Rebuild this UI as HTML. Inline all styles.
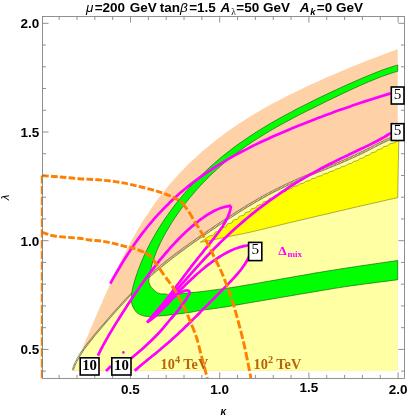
<!DOCTYPE html>
<html><head><meta charset="utf-8"><title>plot</title>
<style>html,body{margin:0;padding:0;background:#fff;}body{width:407px;height:418px;position:relative;overflow:hidden;font-family:"Liberation Sans",sans-serif;}</style>
</head><body>
<div style="position:absolute;left:0;top:0;width:407px;height:418px;will-change:transform">
<svg width="407" height="418" viewBox="0 0 407 418" style="position:absolute;left:0;top:0">
<rect width="407" height="418" fill="#fff"/>
<path d="M79.7 355.6 C80.3 354.1 82.0 349.7 83.2 346.8 C84.4 343.9 85.6 341.0 86.8 338.1 C88.0 335.2 89.2 332.3 90.5 329.4 C91.7 326.5 92.9 323.6 94.1 320.8 C95.4 317.9 96.6 315.0 97.8 312.1 C99.1 309.2 100.3 306.3 101.6 303.4 C102.8 300.6 104.1 297.7 105.3 294.8 C106.6 291.9 107.9 289.1 109.2 286.2 C110.5 283.3 111.8 280.5 113.1 277.6 C114.4 274.7 115.7 271.9 117.1 269.0 C118.4 266.2 119.8 263.4 121.2 260.5 C122.6 257.7 124.0 254.9 125.4 252.1 C126.8 249.3 128.3 246.5 129.8 243.8 C131.3 241.0 132.8 238.2 134.4 235.5 C135.9 232.8 137.5 230.0 139.1 227.3 C140.7 224.6 142.4 222.0 144.1 219.3 C145.8 216.7 147.5 214.0 149.2 211.4 C151.0 208.8 152.8 206.2 154.6 203.7 C156.5 201.1 158.3 198.6 160.2 196.1 C162.2 193.6 164.1 191.2 166.1 188.7 C168.1 186.3 170.1 183.9 172.2 181.5 C174.2 179.1 176.3 176.8 178.5 174.5 C180.6 172.2 182.8 169.9 185.0 167.7 C187.2 165.4 189.5 163.2 191.7 161.1 C194.0 158.9 196.3 156.8 198.7 154.7 C201.0 152.6 203.4 150.5 205.8 148.5 C208.2 146.4 210.6 144.5 213.1 142.5 C215.6 140.5 218.1 138.6 220.6 136.7 C223.1 134.8 225.7 133.0 228.2 131.1 C230.8 129.3 233.4 127.5 236.0 125.8 C238.6 124.0 241.2 122.3 243.9 120.6 C246.5 118.9 249.2 117.2 251.9 115.6 C254.6 113.9 257.3 112.3 260.0 110.8 C262.7 109.2 265.5 107.6 268.2 106.1 C270.9 104.6 273.7 103.1 276.5 101.6 C279.2 100.1 282.0 98.6 284.8 97.2 C287.6 95.8 290.4 94.4 293.2 93.0 C296.1 91.6 298.9 90.2 301.7 88.9 C304.5 87.5 307.4 86.2 310.2 84.8 C313.1 83.5 316.0 82.2 318.8 80.9 C321.7 79.6 324.6 78.4 327.4 77.1 C330.3 75.8 333.2 74.6 336.1 73.4 C339.0 72.1 341.9 70.9 344.8 69.7 C347.8 68.5 350.7 67.3 353.6 66.1 C356.5 64.9 359.5 63.7 362.4 62.6 C365.3 61.4 368.3 60.3 371.2 59.1 C374.2 58.0 377.1 56.9 380.1 55.8 C383.0 54.6 385.9 53.6 388.9 52.5 C391.8 51.4 396.2 49.8 397.7 49.3 L397.7 371.1 L73.4 371.1 Z" fill="#fed1a7"/>
<path d="M73.4 370.4 C73.7 369.5 74.6 366.6 75.4 364.7 C76.2 362.9 77.0 361.2 78.0 359.4 C78.9 357.7 79.9 356.1 80.9 354.4 C82.0 352.8 83.1 351.2 84.2 349.6 C85.3 348.0 86.5 346.5 87.7 344.9 C88.9 343.3 90.1 341.8 91.3 340.3 C92.5 338.7 93.8 337.2 95.0 335.7 C96.3 334.2 97.6 332.7 98.8 331.2 C100.1 329.6 101.4 328.1 102.7 326.6 C104.0 325.1 105.3 323.6 106.6 322.1 C107.8 320.6 109.1 319.1 110.5 317.6 C111.8 316.2 113.1 314.7 114.4 313.2 C115.7 311.7 117.0 310.2 118.3 308.8 C119.7 307.3 121.0 305.8 122.3 304.4 C123.7 302.9 125.0 301.5 126.4 300.1 C127.7 298.6 129.1 297.2 130.4 295.8 C131.8 294.4 133.2 293.0 134.6 291.6 C135.9 290.2 137.3 288.8 138.8 287.4 C140.2 286.1 141.6 284.7 143.0 283.4 C144.4 282.0 145.9 280.7 147.3 279.4 C148.8 278.0 150.2 276.7 151.7 275.4 C153.2 274.1 154.7 272.9 156.1 271.6 C157.6 270.3 159.1 269.1 160.7 267.8 C162.2 266.5 163.7 265.3 165.2 264.1 C166.8 262.8 168.3 261.6 169.9 260.4 C171.4 259.2 173.0 258.0 174.5 256.8 C176.1 255.6 177.7 254.4 179.3 253.3 C180.8 252.1 182.4 250.9 184.0 249.7 C185.6 248.6 187.2 247.4 188.8 246.3 C190.4 245.1 192.0 244.0 193.7 242.8 C195.3 241.7 196.9 240.6 198.5 239.4 C200.1 238.3 201.8 237.2 203.4 236.0 C205.0 234.9 206.7 233.8 208.3 232.7 C209.9 231.6 211.6 230.5 213.2 229.4 C214.8 228.2 216.5 227.1 218.1 226.0 C219.8 225.0 221.4 223.9 223.1 222.8 C224.7 221.7 226.3 220.6 228.0 219.5 C229.6 218.4 231.3 217.4 233.0 216.3 C234.6 215.2 236.3 214.2 237.9 213.1 C239.6 212.1 241.3 211.0 242.9 210.0 C244.6 209.0 246.3 207.9 247.9 206.9 C249.6 205.9 251.3 204.9 253.0 203.9 C254.7 202.9 256.4 201.9 258.1 200.9 C259.8 199.9 261.5 199.0 263.2 198.0 C264.9 197.1 266.6 196.1 268.3 195.2 C270.1 194.3 271.8 193.3 273.5 192.4 C275.3 191.5 277.0 190.6 278.8 189.8 C280.5 188.9 282.3 188.0 284.1 187.2 C285.8 186.3 287.6 185.5 289.4 184.7 C291.2 183.8 293.0 183.0 294.8 182.2 C296.6 181.4 298.4 180.6 300.2 179.8 C302.0 179.1 303.8 178.3 305.7 177.5 C307.5 176.8 309.3 176.0 311.2 175.3 C313.0 174.5 314.8 173.8 316.7 173.0 C318.5 172.3 320.4 171.5 322.2 170.8 C324.1 170.1 325.9 169.3 327.7 168.6 C329.6 167.9 331.4 167.1 333.3 166.4 C335.1 165.6 336.9 164.9 338.8 164.1 C340.6 163.3 342.4 162.6 344.2 161.8 C346.0 161.0 347.8 160.2 349.6 159.4 C351.4 158.6 353.2 157.8 355.0 157.0 C356.8 156.2 358.5 155.3 360.3 154.5 C362.1 153.6 363.8 152.8 365.6 151.9 C367.3 151.0 369.0 150.1 370.8 149.3 C372.5 148.4 374.2 147.5 376.0 146.6 C377.7 145.7 379.4 144.8 381.2 143.9 C383.0 143.1 384.7 142.2 386.5 141.4 C388.3 140.5 390.1 139.7 392.0 139.0 C393.8 138.2 396.7 137.2 397.7 136.9 L397.7 371.1 Z" fill="#ffffa3"/>
<path d="M200.4 242.3  L209.4 236.0 L213.8 235.1 L215.4 231.9 L219.8 231.0 L221.4 227.9 L225.8 227.0 L227.4 223.9 L231.8 223.0 L233.4 220.0 L237.8 219.1 L239.4 216.2 L243.8 215.3 L245.4 212.5 L249.8 211.6 L251.4 208.8 L255.8 207.9 L257.4 205.3 L261.8 204.4 L263.4 201.8 L267.8 200.9 L269.4 198.5 L273.8 197.6 L275.4 195.4 L279.8 194.5 L281.4 192.3 L285.8 191.4 L287.4 189.4 L291.8 188.5 L293.4 186.6 L297.8 185.7 L299.4 184.0 L303.8 183.1 L305.4 181.4 L309.8 180.5 L311.4 178.9 L315.8 178.0 L317.4 176.5 L321.8 175.6 L323.4 174.1 L327.8 173.2 L329.4 171.7 L333.8 170.8 L335.4 169.2 L339.8 168.3 L341.4 166.8 L345.8 165.9 L347.4 164.2 L351.8 163.3 L353.4 161.5 L357.8 160.6 L359.4 158.7 L363.8 157.8 L365.4 155.8 L369.8 154.9 L371.4 152.8 L375.8 151.9 L377.4 149.7 L381.8 148.8 L383.4 146.7 L387.8 145.8 L389.4 143.9 L393.8 143.0 L398.8 140.2 L397.7 197.6 L397.7 197.6 C389.8 199.4 366.3 204.7 350.0 208.5 C333.7 212.3 311.7 217.4 300.0 220.2 C288.3 222.9 288.4 223.0 280.0 225.0 C271.6 227.0 257.0 230.6 249.5 232.3 C242.0 234.0 240.8 234.1 235.0 235.3 C229.2 236.5 220.5 238.3 214.7 239.5 C208.9 240.7 202.8 241.8 200.4 242.3 Z" fill="#ffff00" stroke="#4a4a00" stroke-width="0.45"/>
<path d="M72.8 370.2 C73.1 369.2 74.0 366.3 74.8 364.5 C75.6 362.6 76.5 360.9 77.4 359.1 C78.3 357.4 79.3 355.7 80.4 354.1 C81.4 352.4 82.6 350.8 83.7 349.2 C84.8 347.6 86.0 346.1 87.2 344.5 C88.4 342.9 89.6 341.4 90.8 339.9 C92.0 338.3 93.3 336.8 94.5 335.3 C95.8 333.8 97.1 332.2 98.3 330.7 C99.6 329.2 100.9 327.7 102.2 326.2 C103.5 324.7 104.8 323.2 106.1 321.7 C107.4 320.2 108.7 318.7 110.0 317.2 C111.3 315.7 112.6 314.2 113.9 312.8 C115.2 311.3 116.5 309.8 117.9 308.3 C119.2 306.9 120.5 305.4 121.8 304.0 C123.2 302.5 124.5 301.1 125.9 299.6 C127.2 298.2 128.6 296.8 130.0 295.3 C131.3 293.9 132.7 292.5 134.1 291.1 C135.5 289.7 136.9 288.3 138.3 287.0 C139.7 285.6 141.1 284.2 142.6 282.9 C144.0 281.5 146.2 279.6 146.9 278.9" fill="none" stroke="#66663c" stroke-width="1.3" stroke-dasharray="0.45 1.0"/>
<path d="M73.4 370.4 C73.7 369.5 74.6 366.6 75.4 364.7 C76.2 362.9 77.0 361.2 78.0 359.4 C78.9 357.7 79.9 356.1 80.9 354.4 C82.0 352.8 83.1 351.2 84.2 349.6 C85.3 348.0 86.5 346.5 87.7 344.9 C88.9 343.3 90.1 341.8 91.3 340.3 C92.5 338.7 93.8 337.2 95.0 335.7 C96.3 334.2 97.6 332.7 98.8 331.2 C100.1 329.6 101.4 328.1 102.7 326.6 C104.0 325.1 105.3 323.6 106.6 322.1 C107.8 320.6 109.1 319.1 110.5 317.6 C111.8 316.2 113.1 314.7 114.4 313.2 C115.7 311.7 117.0 310.2 118.3 308.8 C119.7 307.3 121.0 305.8 122.3 304.4 C123.7 302.9 125.0 301.5 126.4 300.1 C127.7 298.6 129.1 297.2 130.4 295.8 C131.8 294.4 133.2 293.0 134.6 291.6 C135.9 290.2 137.3 288.8 138.8 287.4 C140.2 286.1 141.6 284.7 143.0 283.4 C144.4 282.0 146.6 280.0 147.3 279.4" fill="none" stroke="#3d3d1e" stroke-width="0.5"/>
<path d="M72.2 370.0 C72.5 369.0 73.4 366.1 74.2 364.2 C75.0 362.4 75.9 360.6 76.8 358.8 C77.8 357.1 78.8 355.4 79.8 353.7 C80.9 352.1 82.0 350.5 83.2 348.9 C84.3 347.2 85.5 345.7 86.7 344.1 C87.9 342.5 89.1 341.0 90.3 339.5 C91.5 337.9 92.8 336.4 94.0 334.9 C95.3 333.3 96.6 331.8 97.8 330.3 C99.1 328.8 100.4 327.3 101.7 325.8 C103.0 324.3 104.3 322.8 105.6 321.3 C106.9 319.8 108.2 318.3 109.5 316.8 C110.8 315.3 112.1 313.8 113.4 312.3 C114.7 310.8 116.0 309.4 117.4 307.9 C118.7 306.4 120.0 305.0 121.4 303.5 C122.7 302.1 124.1 300.6 125.4 299.2 C126.8 297.7 128.1 296.3 129.5 294.9 C130.9 293.5 132.3 292.1 133.6 290.7 C135.0 289.3 136.4 287.9 137.8 286.5 C139.3 285.1 140.7 283.8 142.1 282.4 C143.5 281.1 145.7 279.1 146.4 278.4" fill="none" stroke="#3d3d1e" stroke-width="0.45"/>
<path d="M146.6 278.6 C147.4 278.0 149.6 276.0 151.0 274.7 C152.5 273.4 154.0 272.1 155.5 270.8 C157.0 269.5 158.5 268.3 160.0 267.0 C161.5 265.8 163.1 264.5 164.6 263.3 C166.1 262.1 167.7 260.8 169.2 259.6 C170.8 258.4 172.4 257.2 173.9 256.0 C175.5 254.8 177.1 253.6 178.7 252.5 C180.2 251.3 181.8 250.1 183.4 248.9 C185.0 247.8 186.6 246.6 188.2 245.5 C189.8 244.3 191.5 243.2 193.1 242.0 C194.7 240.9 196.3 239.7 197.9 238.6 C199.6 237.5 201.2 236.3 202.8 235.2 C204.5 234.1 206.1 233.0 207.7 231.9 C209.4 230.7 211.0 229.6 212.6 228.5 C214.3 227.4 215.9 226.3 217.6 225.2 C219.2 224.1 220.9 223.0 222.5 221.9 C224.1 220.8 225.8 219.8 227.5 218.7 C229.1 217.6 230.8 216.5 232.4 215.5 C234.1 214.4 235.7 213.3 237.4 212.3 C239.1 211.2 240.7 210.2 242.4 209.1 C244.1 208.1 245.7 207.1 247.4 206.1 C249.1 205.0 250.8 204.0 252.5 203.0 C254.2 202.0 255.9 201.0 257.6 200.1 C259.3 199.1 261.0 198.1 262.7 197.1 C264.4 196.2 266.1 195.2 267.9 194.3 C269.6 193.4 271.3 192.5 273.1 191.6 C274.8 190.7 276.6 189.8 278.3 188.9 C280.1 188.0 281.8 187.1 283.6 186.3 C285.4 185.4 287.2 184.6 289.0 183.8 C290.8 182.9 292.6 182.1 294.4 181.3 C296.2 180.5 298.0 179.7 299.8 178.9 C301.6 178.1 303.5 177.4 305.3 176.6 C307.1 175.8 308.9 175.1 310.8 174.3 C312.6 173.6 314.5 172.8 316.3 172.1 C318.2 171.3 320.0 170.6 321.8 169.9 C323.7 169.1 325.5 168.4 327.4 167.7 C329.2 166.9 331.1 166.2 332.9 165.4 C334.7 164.7 336.6 163.9 338.4 163.2 C340.2 162.4 342.0 161.7 343.8 160.9 C345.6 160.1 347.4 159.3 349.2 158.5 C351.0 157.7 352.8 156.9 354.6 156.1 C356.3 155.3 358.1 154.4 359.9 153.6 C361.6 152.7 363.4 151.9 365.1 151.0 C366.9 150.1 368.6 149.2 370.3 148.4 C372.1 147.5 373.8 146.6 375.5 145.7 C377.3 144.8 379.0 143.9 380.8 143.0 C382.5 142.2 384.3 141.3 386.1 140.5 C387.9 139.6 389.7 138.8 391.6 138.1 C393.5 137.3 396.4 136.3 397.4 136.0" fill="none" stroke="#66663c" stroke-width="2.0" stroke-dasharray="0.45 1.0"/>
<path d="M147.3 279.4 C148.0 278.7 150.2 276.7 151.7 275.4 C153.2 274.1 154.7 272.9 156.1 271.6 C157.6 270.3 159.1 269.1 160.7 267.8 C162.2 266.5 163.7 265.3 165.2 264.1 C166.8 262.8 168.3 261.6 169.9 260.4 C171.4 259.2 173.0 258.0 174.5 256.8 C176.1 255.6 177.7 254.4 179.3 253.3 C180.8 252.1 182.4 250.9 184.0 249.7 C185.6 248.6 187.2 247.4 188.8 246.3 C190.4 245.1 192.0 244.0 193.7 242.8 C195.3 241.7 196.9 240.6 198.5 239.4 C200.1 238.3 201.8 237.2 203.4 236.0 C205.0 234.9 206.7 233.8 208.3 232.7 C209.9 231.6 211.6 230.5 213.2 229.4 C214.8 228.2 216.5 227.1 218.1 226.0 C219.8 225.0 221.4 223.9 223.1 222.8 C224.7 221.7 226.3 220.6 228.0 219.5 C229.6 218.4 231.3 217.4 233.0 216.3 C234.6 215.2 236.3 214.2 237.9 213.1 C239.6 212.1 241.3 211.0 242.9 210.0 C244.6 209.0 246.3 207.9 247.9 206.9 C249.6 205.9 251.3 204.9 253.0 203.9 C254.7 202.9 256.4 201.9 258.1 200.9 C259.8 199.9 261.5 199.0 263.2 198.0 C264.9 197.1 266.6 196.1 268.3 195.2 C270.1 194.3 271.8 193.3 273.5 192.4 C275.3 191.5 277.0 190.6 278.8 189.8 C280.5 188.9 282.3 188.0 284.1 187.2 C285.8 186.3 287.6 185.5 289.4 184.7 C291.2 183.8 293.0 183.0 294.8 182.2 C296.6 181.4 298.4 180.6 300.2 179.8 C302.0 179.1 303.8 178.3 305.7 177.5 C307.5 176.8 309.3 176.0 311.2 175.3 C313.0 174.5 314.8 173.8 316.7 173.0 C318.5 172.3 320.4 171.5 322.2 170.8 C324.1 170.1 325.9 169.3 327.7 168.6 C329.6 167.9 331.4 167.1 333.3 166.4 C335.1 165.6 336.9 164.9 338.8 164.1 C340.6 163.3 342.4 162.6 344.2 161.8 C346.0 161.0 347.8 160.2 349.6 159.4 C351.4 158.6 353.2 157.8 355.0 157.0 C356.8 156.2 358.5 155.3 360.3 154.5 C362.1 153.6 363.8 152.8 365.6 151.9 C367.3 151.0 369.0 150.1 370.8 149.3 C372.5 148.4 374.2 147.5 376.0 146.6 C377.7 145.7 379.4 144.8 381.2 143.9 C383.0 143.1 384.7 142.2 386.5 141.4 C388.3 140.5 390.1 139.7 392.0 139.0 C393.8 138.2 396.7 137.2 397.7 136.9" fill="none" stroke="#3d3d1e" stroke-width="0.5"/>
<path d="M146.0 277.9 C146.7 277.2 148.9 275.2 150.4 273.9 C151.9 272.6 153.3 271.3 154.8 270.1 C156.3 268.8 157.9 267.5 159.4 266.3 C160.9 265.0 162.4 263.8 164.0 262.5 C165.5 261.3 167.1 260.1 168.6 258.8 C170.2 257.6 171.7 256.4 173.3 255.2 C174.9 254.0 176.5 252.8 178.1 251.7 C179.6 250.5 181.2 249.3 182.8 248.1 C184.4 247.0 186.0 245.8 187.7 244.6 C189.3 243.5 190.9 242.3 192.5 241.2 C194.1 240.1 195.7 238.9 197.4 237.8 C199.0 236.6 200.6 235.5 202.3 234.4 C203.9 233.3 205.5 232.1 207.2 231.0 C208.8 229.9 210.4 228.8 212.1 227.7 C213.7 226.6 215.4 225.5 217.0 224.4 C218.7 223.3 220.3 222.2 222.0 221.1 C223.6 220.0 225.3 218.9 226.9 217.8 C228.6 216.8 230.2 215.7 231.9 214.6 C233.5 213.6 235.2 212.5 236.9 211.4 C238.5 210.4 240.2 209.3 241.9 208.3 C243.5 207.3 245.2 206.2 246.9 205.2 C248.6 204.2 250.3 203.2 252.0 202.2 C253.7 201.2 255.4 200.2 257.1 199.2 C258.8 198.2 260.5 197.2 262.2 196.3 C263.9 195.3 265.6 194.4 267.4 193.4 C269.1 192.5 270.9 191.6 272.6 190.7 C274.4 189.8 276.1 188.9 277.9 188.0 C279.6 187.1 281.4 186.2 283.2 185.4 C285.0 184.5 286.8 183.7 288.6 182.8 C290.3 182.0 292.2 181.2 294.0 180.4 C295.8 179.6 297.6 178.8 299.4 178.0 C301.2 177.2 303.1 176.4 304.9 175.7 C306.7 174.9 308.6 174.2 310.4 173.4 C312.2 172.6 314.1 171.9 315.9 171.2 C317.8 170.4 319.6 169.7 321.5 168.9 C323.3 168.2 325.2 167.5 327.0 166.7 C328.8 166.0 330.7 165.3 332.5 164.5 C334.3 163.8 336.2 163.0 338.0 162.3 C339.8 161.5 341.6 160.7 343.4 160.0 C345.2 159.2 347.0 158.4 348.8 157.6 C350.6 156.8 352.4 156.0 354.2 155.2 C355.9 154.4 357.7 153.5 359.4 152.7 C361.2 151.8 362.9 151.0 364.7 150.1 C366.4 149.2 368.1 148.4 369.9 147.5 C371.6 146.6 373.3 145.7 375.1 144.8 C376.8 143.9 378.5 143.0 380.3 142.1 C382.1 141.3 383.9 140.4 385.7 139.5 C387.5 138.7 389.3 137.9 391.2 137.1 C393.1 136.4 396.1 135.4 397.0 135.0" fill="none" stroke="#3d3d1e" stroke-width="0.45"/>
<path d="M397.7 65.0 C396.4 65.4 392.3 66.6 389.7 67.5 C387.1 68.4 384.5 69.3 381.9 70.2 C379.4 71.2 376.8 72.2 374.2 73.2 C371.7 74.2 369.2 75.2 366.6 76.3 C364.1 77.3 361.6 78.4 359.1 79.5 C356.5 80.6 354.0 81.7 351.5 82.8 C349.0 83.9 346.5 85.0 344.0 86.2 C341.5 87.3 339.0 88.5 336.6 89.6 C334.1 90.8 331.6 91.9 329.1 93.1 C326.6 94.3 324.2 95.4 321.7 96.6 C319.2 97.8 316.7 99.0 314.3 100.2 C311.8 101.4 309.4 102.7 306.9 103.9 C304.5 105.1 302.0 106.3 299.6 107.6 C297.1 108.8 294.7 110.1 292.3 111.4 C289.9 112.7 287.4 114.0 285.0 115.3 C282.6 116.6 280.2 117.9 277.9 119.2 C275.5 120.6 273.1 121.9 270.7 123.3 C268.4 124.7 266.0 126.1 263.7 127.5 C261.3 128.9 259.0 130.4 256.7 131.8 C254.4 133.3 252.1 134.8 249.8 136.3 C247.5 137.8 245.3 139.3 243.0 140.9 C240.8 142.4 238.6 144.0 236.3 145.6 C234.1 147.3 231.9 148.9 229.8 150.6 C227.6 152.2 225.5 153.9 223.3 155.6 C221.2 157.4 219.1 159.1 217.0 160.9 C214.9 162.7 212.9 164.5 210.8 166.3 C208.8 168.2 206.8 170.0 204.8 171.9 C202.8 173.8 200.8 175.7 198.9 177.7 C197.0 179.6 195.1 181.6 193.2 183.6 C191.3 185.6 189.4 187.6 187.6 189.7 C185.8 191.7 184.0 193.8 182.2 195.9 C180.5 198.1 178.7 200.2 177.0 202.3 C175.3 204.5 173.6 206.7 172.0 208.9 C170.4 211.1 168.7 213.3 167.2 215.6 C165.6 217.8 164.1 220.1 162.5 222.4 C161.0 224.7 159.6 227.0 158.1 229.3 C156.7 231.7 155.3 234.0 154.0 236.4 C152.6 238.8 151.3 241.2 150.0 243.6 C148.7 246.0 147.5 248.4 146.3 250.9 C145.1 253.3 144.0 255.8 142.9 258.3 C141.8 260.8 140.8 263.3 139.8 265.9 C138.8 268.4 137.8 271.0 137.0 273.6 C136.1 276.1 135.2 278.8 134.5 281.4 C133.7 284.0 132.9 286.8 132.4 289.4 C131.9 292.0 131.6 294.9 131.5 297.0 C131.4 299.1 131.4 300.4 131.6 302.0 C131.8 303.6 132.0 304.9 132.9 306.7 C133.8 308.5 135.2 311.1 136.8 312.6 C138.4 314.1 140.6 314.9 142.7 315.6 C144.8 316.3 147.0 316.5 149.6 316.6 C152.2 316.7 155.0 316.3 158.4 316.0 C161.8 315.7 164.6 315.5 169.8 314.9 C175.0 314.3 184.5 313.1 189.5 312.4 C194.5 311.7 195.0 311.3 200.0 310.5 C205.0 309.7 213.0 308.8 219.7 307.8 C226.4 306.8 225.4 306.9 240.0 304.4 C254.6 301.9 288.7 296.1 307.0 293.0 C325.3 289.9 334.9 288.2 350.0 286.0 C365.1 283.8 389.8 280.8 397.7 279.7 L397.7 260.5 L397.7 260.5 C389.8 261.7 362.9 265.5 350.0 267.5 C337.1 269.5 327.2 271.1 320.0 272.3 C312.8 273.5 320.3 272.2 307.0 274.5 C293.7 276.8 254.6 283.8 240.0 286.2 C225.4 288.6 226.4 288.3 219.7 289.2 C213.0 290.1 205.0 291.2 200.0 291.8 C195.0 292.4 193.2 292.4 189.5 292.8 C185.8 293.2 181.3 293.7 178.0 294.0 C174.7 294.3 172.0 294.7 169.8 294.7 C167.6 294.7 166.6 294.0 165.0 293.9 C163.4 293.8 161.6 294.2 160.0 293.8 C158.4 293.4 156.8 292.4 155.4 291.4 C154.0 290.3 152.5 289.0 151.4 287.5 C150.3 286.0 149.4 284.1 149.0 282.6 C148.6 281.1 148.7 280.7 148.9 278.8 C149.1 276.9 149.7 273.7 150.2 271.3 C150.8 268.8 151.4 266.4 152.1 263.9 C152.8 261.5 153.6 259.1 154.5 256.7 C155.3 254.4 156.3 252.0 157.3 249.7 C158.3 247.3 159.3 245.0 160.5 242.7 C161.6 240.4 162.7 238.1 164.0 235.9 C165.2 233.6 166.4 231.4 167.8 229.2 C169.1 227.0 170.4 224.8 171.8 222.6 C173.2 220.4 174.6 218.3 176.1 216.1 C177.5 214.0 179.0 211.9 180.5 209.8 C182.0 207.7 183.6 205.7 185.2 203.6 C186.7 201.6 188.3 199.6 190.0 197.6 C191.6 195.6 193.3 193.7 195.0 191.7 C196.7 189.8 198.4 187.9 200.1 186.0 C201.8 184.1 203.6 182.3 205.4 180.4 C207.2 178.6 209.0 176.8 210.8 175.0 C212.7 173.3 214.5 171.5 216.4 169.8 C218.3 168.1 220.2 166.4 222.1 164.7 C224.0 163.1 226.0 161.4 228.0 159.8 C229.9 158.2 231.9 156.6 233.9 155.1 C236.0 153.5 238.0 152.0 240.0 150.5 C242.1 149.0 244.2 147.5 246.3 146.0 C248.4 144.6 250.5 143.1 252.6 141.7 C254.7 140.3 256.9 138.9 259.1 137.6 C261.2 136.2 263.4 134.9 265.6 133.5 C267.8 132.2 270.0 130.9 272.2 129.6 C274.4 128.3 276.7 127.0 278.9 125.8 C281.2 124.5 283.4 123.3 285.7 122.1 C288.0 120.8 290.2 119.6 292.5 118.4 C294.8 117.2 297.1 116.0 299.4 114.8 C301.7 113.7 304.0 112.5 306.3 111.3 C308.6 110.2 310.9 109.0 313.2 107.9 C315.5 106.7 317.8 105.6 320.1 104.5 C322.4 103.3 324.7 102.2 327.0 101.1 C329.3 100.0 331.7 98.8 334.0 97.7 C336.3 96.6 338.6 95.5 340.9 94.4 C343.2 93.3 345.5 92.3 347.8 91.2 C350.1 90.1 352.4 89.0 354.7 88.0 C357.0 86.9 359.4 85.9 361.7 84.8 C364.0 83.8 366.3 82.8 368.7 81.8 C371.0 80.8 373.4 79.8 375.7 78.9 C378.1 77.9 380.5 77.0 382.9 76.1 C385.3 75.2 387.8 74.3 390.3 73.5 C392.7 72.7 396.5 71.6 397.7 71.2 Z" fill="#00ff00" stroke="#1a661a" stroke-width="0.7"/>
<path d="M110.3 283.6 C111.0 282.3 113.1 278.5 114.6 275.9 C116.1 273.3 117.6 270.8 119.1 268.2 C120.6 265.6 122.1 263.1 123.7 260.5 C125.3 258.0 126.9 255.5 128.5 253.0 C130.2 250.4 131.8 247.9 133.5 245.5 C135.3 243.0 137.0 240.6 138.8 238.1 C140.5 235.7 142.4 233.3 144.2 231.0 C146.0 228.6 147.9 226.3 149.8 224.0 C151.8 221.7 153.7 219.4 155.7 217.2 C157.7 214.9 159.7 212.7 161.8 210.6 C163.8 208.4 165.9 206.3 168.1 204.2 C170.2 202.1 172.4 200.1 174.5 198.0 C176.7 196.0 179.0 194.1 181.2 192.1 C183.5 190.2 185.8 188.3 188.1 186.4 C190.4 184.5 192.8 182.7 195.2 180.9 C197.5 179.1 199.9 177.4 202.4 175.6 C204.8 173.9 207.3 172.2 209.8 170.6 C212.2 168.9 214.8 167.3 217.3 165.7 C219.8 164.1 222.4 162.6 224.9 161.1 C227.5 159.5 230.1 158.0 232.7 156.6 C235.3 155.1 238.0 153.7 240.6 152.3 C243.2 150.9 245.9 149.5 248.6 148.1 C251.2 146.8 253.9 145.4 256.6 144.1 C259.3 142.8 262.0 141.5 264.8 140.3 C267.5 139.0 270.2 137.8 272.9 136.5 C275.7 135.3 278.4 134.1 281.2 132.9 C283.9 131.7 286.7 130.6 289.4 129.4 C292.2 128.3 295.0 127.1 297.7 126.0 C300.5 124.9 303.3 123.8 306.1 122.7 C308.8 121.6 311.6 120.5 314.4 119.4 C317.2 118.4 320.0 117.3 322.8 116.3 C325.6 115.2 328.3 114.2 331.1 113.2 C333.9 112.1 336.7 111.1 339.5 110.1 C342.3 109.1 345.1 108.1 347.9 107.2 C350.8 106.2 353.6 105.2 356.4 104.3 C359.2 103.3 362.0 102.4 364.9 101.4 C367.7 100.5 370.5 99.6 373.4 98.7 C376.3 97.8 379.1 96.9 382.0 96.0 C384.9 95.1 389.3 93.8 390.7 93.4" fill="none" stroke="#ff00ff" stroke-width="2.7" stroke-linejoin="round"/>
<path d="M97.9 355.6 C98.3 354.8 99.5 352.4 100.3 350.8 C101.1 349.2 101.9 347.7 102.7 346.1 C103.6 344.5 104.4 343.0 105.3 341.5 C106.1 340.0 107.0 338.4 107.9 336.9 C108.7 335.4 109.6 333.9 110.5 332.4 C111.4 330.9 112.3 329.4 113.2 327.9 C114.1 326.4 115.0 324.9 115.9 323.4 C116.9 321.9 117.8 320.4 118.7 319.0 C119.6 317.5 120.6 316.0 121.5 314.5 C122.5 313.0 123.4 311.5 124.4 310.0 C125.3 308.6 126.3 307.1 127.2 305.6 C128.2 304.1 129.2 302.6 130.1 301.2 C131.1 299.7 132.1 298.2 133.1 296.8 C134.0 295.3 135.0 293.8 136.0 292.4 C137.0 290.9 138.0 289.5 139.0 288.0 C140.0 286.6 141.0 285.1 142.1 283.7 C143.1 282.3 144.1 280.8 145.1 279.4 C146.2 278.0 147.2 276.6 148.2 275.2 C149.3 273.8 150.3 272.4 151.4 271.0 C152.4 269.6 153.5 268.2 154.6 266.8 C155.6 265.4 156.7 264.1 157.8 262.7 C158.9 261.3 160.0 260.0 161.1 258.6 C162.2 257.3 163.4 255.9 164.5 254.6 C165.6 253.3 166.8 252.0 167.9 250.6 C169.1 249.3 170.2 248.0 171.4 246.7 C172.6 245.4 173.8 244.1 175.0 242.8 C176.2 241.6 177.4 240.3 178.6 239.0 C179.8 237.8 181.1 236.5 182.3 235.3 C183.6 234.1 184.9 232.8 186.2 231.6 C187.4 230.4 188.7 229.2 190.1 228.1 C191.4 226.9 192.7 225.7 194.1 224.6 C195.4 223.5 196.8 222.3 198.2 221.3 C199.6 220.2 201.0 219.1 202.5 218.1 C203.9 217.1 205.4 216.1 206.8 215.1 C208.3 214.2 209.8 213.3 211.3 212.5 C212.9 211.6 214.4 210.8 216.0 210.1 C217.6 209.3 219.2 208.7 220.8 208.1 C222.5 207.5 224.1 207.0 225.8 206.6 C227.5 206.1 230.1 205.8 231.0 205.6" fill="none" stroke="#ff00ff" stroke-width="2.7" stroke-linejoin="round"/>
<path d="M231.0 205.6 C230.9 206.2 230.6 208.1 230.4 209.3 C230.1 210.5 229.7 211.6 229.4 212.8 C229.0 214.0 228.5 215.1 228.1 216.2 C227.6 217.3 227.1 218.4 226.5 219.5 C226.0 220.6 225.4 221.7 224.8 222.7 C224.2 223.8 223.5 224.9 222.9 225.9 C222.2 226.9 221.5 228.0 220.8 229.0 C220.1 230.0 219.4 231.0 218.7 232.0 C217.9 233.0 217.2 234.0 216.4 235.0 C215.7 236.0 214.9 237.0 214.1 238.0 C213.4 239.0 212.6 239.9 211.8 240.9 C211.0 241.9 210.2 242.9 209.5 243.8 C208.7 244.8 207.9 245.8 207.1 246.8 C206.3 247.7 205.5 248.7 204.7 249.7 C203.9 250.6 203.2 251.6 202.4 252.6 C201.6 253.5 200.8 254.5 200.0 255.5 C199.3 256.4 198.5 257.4 197.7 258.4 C197.0 259.3 196.2 260.3 195.4 261.3 C194.7 262.2 193.9 263.2 193.1 264.2 C192.4 265.2 191.6 266.1 190.9 267.1 C190.1 268.1 189.4 269.1 188.6 270.1 C187.9 271.0 187.2 272.0 186.4 273.0 C185.7 274.0 184.9 275.0 184.2 275.9 C183.4 276.9 182.7 277.9 182.0 278.9 C181.2 279.9 180.5 280.9 179.8 281.8 C179.0 282.8 178.3 283.8 177.5 284.8 C176.8 285.8 176.0 286.8 175.3 287.8 C174.5 288.7 173.8 289.7 173.0 290.7 C172.3 291.7 171.5 292.7 170.8 293.7 C170.0 294.6 169.3 295.6 168.5 296.6 C167.7 297.6 167.0 298.6 166.2 299.5 C165.4 300.5 164.6 301.5 163.8 302.5 C163.1 303.4 162.3 304.4 161.5 305.4 C160.7 306.3 159.9 307.3 159.1 308.3 C158.3 309.2 157.5 310.2 156.7 311.1 C155.9 312.1 155.1 313.0 154.3 314.0 C153.5 314.9 152.7 315.9 151.9 316.8 C151.1 317.7 150.3 318.7 149.5 319.6 C148.7 320.5 147.5 321.9 147.1 322.4" fill="none" stroke="#ff00ff" stroke-width="2.7" stroke-linejoin="round"/>
<path d="M147.1 322.4 C148.0 321.4 150.9 318.6 152.7 316.7 C154.6 314.7 156.4 312.8 158.2 310.8 C160.0 308.9 161.8 306.9 163.6 305.0 C165.4 303.0 167.1 301.0 168.9 299.0 C170.7 297.0 172.4 295.0 174.2 293.0 C175.9 291.0 177.7 289.0 179.4 286.9 C181.2 284.9 183.0 282.9 184.7 280.9 C186.5 278.9 188.2 276.9 190.0 274.9 C191.8 272.9 193.5 270.9 195.3 268.9 C197.1 266.9 198.9 264.9 200.7 262.9 C202.5 261.0 204.3 259.0 206.1 257.0 C208.0 255.1 209.8 253.2 211.7 251.2 C213.5 249.3 215.4 247.4 217.3 245.5 C219.1 243.6 221.0 241.7 223.0 239.9 C224.9 238.0 226.8 236.2 228.7 234.4 C230.7 232.5 232.7 230.7 234.6 229.0 C236.6 227.2 238.6 225.4 240.6 223.7 C242.6 221.9 244.7 220.2 246.7 218.5 C248.8 216.8 250.8 215.1 252.9 213.4 C255.0 211.7 257.1 210.1 259.2 208.4 C261.3 206.8 263.4 205.2 265.6 203.6 C267.7 202.0 269.9 200.4 272.1 198.9 C274.2 197.3 276.4 195.8 278.6 194.3 C280.8 192.7 283.0 191.2 285.3 189.8 C287.5 188.3 289.7 186.8 292.0 185.4 C294.3 184.0 296.5 182.6 298.8 181.2 C301.1 179.8 303.4 178.4 305.7 177.1 C308.0 175.7 310.3 174.4 312.7 173.1 C315.0 171.8 317.3 170.5 319.7 169.2 C322.0 167.9 324.4 166.7 326.8 165.5 C329.1 164.2 331.5 163.0 333.9 161.9 C336.3 160.7 338.7 159.5 341.1 158.3 C343.5 157.2 345.9 156.0 348.3 154.9 C350.7 153.7 353.1 152.6 355.5 151.5 C357.9 150.4 360.3 149.2 362.7 148.1 C365.1 146.9 367.5 145.8 369.9 144.6 C372.3 143.4 374.7 142.2 377.0 141.0 C379.4 139.7 381.8 138.4 384.1 137.1 C386.4 135.7 389.8 133.5 391.0 132.8" fill="none" stroke="#ff00ff" stroke-width="2.7" stroke-linejoin="round"/>
<path d="M147.1 322.4 C147.6 322.1 149.0 321.2 149.9 320.5 C150.8 319.9 151.6 319.2 152.5 318.5 C153.3 317.8 154.2 317.1 155.0 316.4 C155.8 315.7 156.6 314.9 157.4 314.2 C158.2 313.4 159.0 312.7 159.8 311.9 C160.5 311.1 161.3 310.3 162.1 309.6 C162.8 308.8 163.6 308.0 164.4 307.2 C165.1 306.4 165.9 305.6 166.6 304.7 C167.4 303.9 168.1 303.1 168.9 302.3 C169.6 301.5 170.4 300.7 171.1 299.9 C171.9 299.1 172.6 298.2 173.4 297.4 C174.2 296.6 174.9 295.8 175.7 295.0 C176.4 294.2 177.2 293.4 178.0 292.6 C178.7 291.8 179.5 291.0 180.3 290.2 C181.0 289.4 181.8 288.6 182.6 287.8 C183.4 287.0 184.1 286.2 184.9 285.5 C185.7 284.7 186.5 283.9 187.3 283.1 C188.1 282.4 188.9 281.6 189.7 280.8 C190.5 280.1 191.3 279.3 192.1 278.6 C192.9 277.8 193.7 277.1 194.5 276.3 C195.3 275.6 196.2 274.9 197.0 274.1 C197.8 273.4 198.6 272.7 199.5 272.0 C200.3 271.2 201.1 270.5 202.0 269.8 C202.8 269.1 203.7 268.4 204.5 267.7 C205.4 267.0 206.3 266.3 207.1 265.7 C208.0 265.0 208.9 264.3 209.8 263.7 C210.6 263.0 211.5 262.3 212.4 261.7 C213.3 261.0 214.2 260.4 215.1 259.8 C216.1 259.2 217.0 258.5 217.9 257.9 C218.8 257.3 219.8 256.7 220.7 256.1 C221.7 255.6 222.6 255.0 223.6 254.4 C224.5 253.9 225.5 253.3 226.5 252.8 C227.5 252.3 228.5 251.8 229.5 251.3 C230.5 250.8 231.5 250.4 232.5 249.9 C233.5 249.5 234.5 249.0 235.6 248.6 C236.6 248.2 237.6 247.9 238.7 247.5 C239.7 247.2 240.8 246.9 241.9 246.6 C242.9 246.3 244.0 246.0 245.1 245.8 C246.1 245.6 247.8 245.4 248.3 245.3" fill="none" stroke="#ff00ff" stroke-width="2.7" stroke-linejoin="round"/>
<path d="M249.0 256.9 C248.7 257.5 247.7 259.4 247.0 260.6 C246.4 261.8 245.6 262.9 244.9 264.1 C244.1 265.2 243.3 266.4 242.5 267.5 C241.7 268.6 240.9 269.7 240.0 270.8 C239.1 271.8 238.3 272.9 237.4 273.9 C236.5 275.0 235.6 276.0 234.6 277.1 C233.7 278.1 232.8 279.1 231.8 280.1 C230.9 281.1 229.9 282.1 229.0 283.1 C228.0 284.1 227.1 285.1 226.1 286.1 C225.1 287.1 224.2 288.1 223.2 289.1 C222.2 290.1 221.2 291.1 220.2 292.1 C219.3 293.1 218.3 294.0 217.3 295.0 C216.3 296.0 215.3 297.0 214.4 298.0 C213.4 298.9 212.4 299.9 211.4 300.9 C210.4 301.9 209.5 302.9 208.5 303.9 C207.5 304.8 206.5 305.8 205.6 306.8 C204.6 307.8 203.6 308.8 202.6 309.7 C201.7 310.7 200.7 311.7 199.7 312.7 C198.7 313.7 197.8 314.7 196.8 315.6 C195.8 316.6 194.8 317.6 193.8 318.6 C192.9 319.5 191.9 320.5 190.9 321.5 C189.9 322.5 188.9 323.4 188.0 324.4 C187.0 325.4 186.0 326.3 185.0 327.3 C184.0 328.2 183.0 329.2 182.0 330.2 C181.0 331.1 180.0 332.1 179.0 333.0 C178.0 334.0 177.0 334.9 176.0 335.8 C174.9 336.8 173.9 337.7 172.9 338.6 C171.8 339.6 170.8 340.5 169.8 341.4 C168.7 342.3 167.7 343.2 166.6 344.1 C165.6 345.0 164.5 346.0 163.5 346.8 C162.4 347.7 161.3 348.6 160.3 349.5 C159.2 350.4 158.1 351.3 157.0 352.2 C156.0 353.1 154.9 354.0 153.8 354.8 C152.7 355.7 151.6 356.6 150.6 357.5 C149.5 358.3 148.4 359.2 147.3 360.1 C146.2 361.0 145.2 361.9 144.1 362.7 C143.0 363.6 141.9 364.5 140.9 365.4 C139.8 366.3 138.8 367.2 137.8 368.1 C136.7 369.0 135.2 370.3 134.7 370.8" fill="none" stroke="#ff00ff" stroke-width="2.7" stroke-linejoin="round"/>
<path d="M166.0 306.0 C166.8 305.0 169.1 301.9 171.0 300.0 C172.9 298.1 175.4 295.8 177.7 294.3 C180.0 292.8 182.8 291.4 184.6 290.8 C186.4 290.2 187.7 290.3 188.5 290.7 C189.3 291.1 189.9 292.0 189.6 293.3 C189.3 294.6 187.8 296.6 186.5 298.7 C185.2 300.8 183.4 303.2 181.6 305.6 C179.8 308.1 177.7 311.0 175.7 313.4 C173.7 315.8 172.6 316.7 169.8 320.0 C167.0 323.3 162.9 328.6 158.8 333.0 C154.7 337.4 149.6 342.2 145.0 346.5 C140.4 350.8 133.3 356.5 131.0 358.5" fill="none" stroke="#ff00ff" stroke-width="2.7" stroke-linejoin="round"/>
<path d="M147.1 322.4 L157 311 L160.8 306.2 L165.7 300.3 L172.6 291.4 L175.5 287.5 L179.5 290.5 L177 293.2 L169 302 L164.2 307.6 L159.2 311.8 L153.9 318 Z" fill="#ff00ff"/>
<circle cx="123.4" cy="352.4" r="1.3" fill="#ff00ff"/>
<path d="M106 371 L111 366" stroke="#ff00ff" stroke-width="2.7"/>
<path d="M41.8 378.0 C41.8 365.0 41.8 324.3 41.8 300.0 C41.8 275.7 41.8 252.7 41.8 232.0 C41.8 211.3 41.8 185.0 41.8 175.6" fill="none" stroke="#ff7f00" stroke-width="2.0" stroke-dasharray="8.4 2.4"/>
<path d="M42.2 175.6 C45.2 175.8 53.9 176.5 60.0 177.0 C66.1 177.5 72.7 178.2 79.0 178.7 C85.3 179.2 92.0 179.3 98.0 179.8 C104.0 180.3 109.7 180.8 115.0 181.6 C120.3 182.4 123.7 183.0 130.0 184.4 C136.3 185.8 147.2 188.4 153.0 190.0 C158.8 191.6 161.1 192.6 164.7 193.9 C168.3 195.2 171.6 196.4 174.6 197.9 C177.6 199.4 181.1 202.0 182.4 202.8" fill="none" stroke="#ff7f00" stroke-width="2.9" stroke-dasharray="6.6 2.25"/>
<path d="M42.2 232.3 C44.3 232.9 48.5 235.0 54.6 236.0 C60.7 237.0 73.1 237.6 79.0 238.3 C84.9 239.0 86.1 239.5 90.0 240.0 C93.9 240.5 98.2 240.6 102.3 241.2 C106.4 241.8 110.5 242.8 114.6 243.7 C118.7 244.6 123.5 246.0 126.9 246.8 C130.3 247.6 131.8 247.7 134.8 248.6 C137.8 249.5 143.0 251.8 144.7 252.5" fill="none" stroke="#ff7f00" stroke-width="2.9" stroke-dasharray="6.6 2.25"/>
<path d="M182.4 202.8 C183.2 204.0 186.0 207.9 187.3 209.7 C188.6 211.5 188.7 211.5 190.0 213.6 C191.3 215.7 193.3 219.7 195.0 222.4 C196.7 225.1 198.3 227.0 199.9 229.7 C201.5 232.4 203.2 235.6 204.8 238.6 C206.4 241.6 208.3 244.7 209.7 247.4 C211.1 250.1 211.4 251.2 213.2 255.0 C215.0 258.8 218.7 265.9 220.6 270.0 C222.5 274.1 223.3 276.5 224.6 279.8 C225.9 283.1 227.2 286.1 228.5 289.7 C229.8 293.3 230.9 296.7 232.4 301.4 C233.9 306.1 235.3 310.7 237.3 318.0 C239.3 325.3 241.9 335.0 244.2 345.0 C246.5 355.0 249.8 372.5 250.9 378.0" fill="none" stroke="#ff7f00" stroke-width="2.9" stroke-dasharray="8.3 2.6"/>
<path d="M144.7 252.5 C145.7 253.2 148.8 254.7 150.6 256.4 C152.4 258.1 153.3 259.7 155.5 262.8 C157.7 265.9 161.8 271.9 164.0 275.0 C166.2 278.1 167.0 279.0 168.8 281.5 C170.6 284.0 172.9 286.9 174.7 289.8 C176.5 292.7 178.0 295.6 179.7 298.7 C181.3 301.8 183.1 305.4 184.6 308.5 C186.1 311.6 186.7 312.9 188.5 317.3 C190.3 321.7 194.0 330.4 195.7 335.0 C197.4 339.6 196.7 337.8 198.6 345.0 C200.5 352.2 205.8 372.5 207.2 378.0" fill="none" stroke="#ff7f00" stroke-width="2.9" stroke-dasharray="8.3 2.6"/>
<g stroke="#7d7d7d" stroke-width="0.85" fill="none"><rect x="42.5" y="16.5" width="362.0" height="361.9"/><path d="M59.14 378.4 v-3.5 M59.14 16.5 v3.5"/>
<path d="M76.98 378.4 v-3.5 M76.98 16.5 v3.5"/>
<path d="M94.82 378.4 v-3.5 M94.82 16.5 v3.5"/>
<path d="M112.66 378.4 v-3.5 M112.66 16.5 v3.5"/>
<path d="M130.50 378.4 v-6 M130.50 16.5 v6"/>
<path d="M148.34 378.4 v-3.5 M148.34 16.5 v3.5"/>
<path d="M166.18 378.4 v-3.5 M166.18 16.5 v3.5"/>
<path d="M184.02 378.4 v-3.5 M184.02 16.5 v3.5"/>
<path d="M201.86 378.4 v-3.5 M201.86 16.5 v3.5"/>
<path d="M219.70 378.4 v-6 M219.70 16.5 v6"/>
<path d="M237.54 378.4 v-3.5 M237.54 16.5 v3.5"/>
<path d="M255.38 378.4 v-3.5 M255.38 16.5 v3.5"/>
<path d="M273.22 378.4 v-3.5 M273.22 16.5 v3.5"/>
<path d="M291.06 378.4 v-3.5 M291.06 16.5 v3.5"/>
<path d="M308.90 378.4 v-6 M308.90 16.5 v6"/>
<path d="M326.74 378.4 v-3.5 M326.74 16.5 v3.5"/>
<path d="M344.58 378.4 v-3.5 M344.58 16.5 v3.5"/>
<path d="M362.42 378.4 v-3.5 M362.42 16.5 v3.5"/>
<path d="M380.26 378.4 v-3.5 M380.26 16.5 v3.5"/>
<path d="M398.10 378.4 v-6 M398.10 16.5 v6"/>
<path d="M42.5 371.14 h3.5 M404.5 371.14 h-3.5"/>
<path d="M42.5 349.40 h6 M404.5 349.40 h-6"/>
<path d="M42.5 327.66 h3.5 M404.5 327.66 h-3.5"/>
<path d="M42.5 305.92 h3.5 M404.5 305.92 h-3.5"/>
<path d="M42.5 284.18 h3.5 M404.5 284.18 h-3.5"/>
<path d="M42.5 262.44 h3.5 M404.5 262.44 h-3.5"/>
<path d="M42.5 240.70 h6 M404.5 240.70 h-6"/>
<path d="M42.5 218.96 h3.5 M404.5 218.96 h-3.5"/>
<path d="M42.5 197.22 h3.5 M404.5 197.22 h-3.5"/>
<path d="M42.5 175.48 h3.5 M404.5 175.48 h-3.5"/>
<path d="M42.5 153.74 h3.5 M404.5 153.74 h-3.5"/>
<path d="M42.5 132.00 h6 M404.5 132.00 h-6"/>
<path d="M42.5 110.26 h3.5 M404.5 110.26 h-3.5"/>
<path d="M42.5 88.52 h3.5 M404.5 88.52 h-3.5"/>
<path d="M42.5 66.78 h3.5 M404.5 66.78 h-3.5"/>
<path d="M42.5 45.04 h3.5 M404.5 45.04 h-3.5"/>
<path d="M42.5 23.30 h6 M404.5 23.30 h-6"/></g>
<rect x="391.3" y="87" width="12.7" height="17.0" fill="#fff" stroke="#000" stroke-width="1.6"/><text x="397.6" y="98.7" text-anchor="middle" font-family="Liberation Serif" font-weight="normal" font-size="15.2" fill="#000">5</text>
<rect x="391.3" y="123.7" width="12.7" height="16.8" fill="#fff" stroke="#000" stroke-width="1.6"/><text x="397.6" y="135.4" text-anchor="middle" font-family="Liberation Serif" font-weight="normal" font-size="15.2" fill="#000">5</text>
<rect x="248.6" y="242.4" width="13.2" height="18.2" fill="#fff" stroke="#000" stroke-width="1.6"/><text x="255.2" y="254.1" text-anchor="middle" font-family="Liberation Serif" font-weight="normal" font-size="15.2" fill="#000">5</text>
<rect x="80.2" y="357.8" width="18.8" height="17.2" fill="#fff" stroke="#000" stroke-width="1.6"/><text x="89.6" y="370.4" text-anchor="middle" font-family="Liberation Serif" font-weight="bold" font-size="14.8" fill="#000">10</text>
<rect x="111.8" y="357.8" width="19.2" height="17.2" fill="#fff" stroke="#000" stroke-width="1.6"/><text x="121.4" y="370.4" text-anchor="middle" font-family="Liberation Serif" font-weight="bold" font-size="14.8" fill="#000">10</text>
<text x="160.6" y="368.9" font-family="Liberation Serif" font-weight="bold" font-size="14.3" fill="#b5640f">10<tspan dy="-6" font-size="10.3">4</tspan><tspan dy="6"> TeV</tspan></text>
<text x="253.6" y="368.9" font-family="Liberation Serif" font-weight="bold" font-size="14.3" fill="#b5640f">10<tspan dy="-6" font-size="10.3">2</tspan><tspan dy="6"> TeV</tspan></text>
<text x="278.2" y="254.6" font-family="Liberation Serif" font-weight="bold" font-size="13.5" fill="#ff00ff">Δ</text>
<text x="287.6" y="257.3" font-family="Liberation Serif" font-weight="bold" font-size="9" fill="#ff00ff">mix</text>
<text x="39.2" y="28.200000000000003" text-anchor="end" font-family="Liberation Sans" font-weight="bold" font-size="13.5" fill="#000">2.0</text>
<text x="39.2" y="136.9" text-anchor="end" font-family="Liberation Sans" font-weight="bold" font-size="13.5" fill="#000">1.5</text>
<text x="39.2" y="245.6" text-anchor="end" font-family="Liberation Sans" font-weight="bold" font-size="13.5" fill="#000">1.0</text>
<text x="39.2" y="354.29999999999995" text-anchor="end" font-family="Liberation Sans" font-weight="bold" font-size="13.5" fill="#000">0.5</text>
<text x="130.5" y="394.3" text-anchor="middle" font-family="Liberation Sans" font-weight="bold" font-size="13.5" fill="#000">0.5</text>
<text x="219.7" y="394.3" text-anchor="middle" font-family="Liberation Sans" font-weight="bold" font-size="13.5" fill="#000">1.0</text>
<text x="308.9" y="391.6" text-anchor="middle" font-family="Liberation Sans" font-weight="bold" font-size="13.5" fill="#000">1.5</text>
<text x="398.1" y="394.3" text-anchor="middle" font-family="Liberation Sans" font-weight="bold" font-size="13.5" fill="#000">2.0</text>
<text x="223.3" y="414.5" text-anchor="middle" font-family="Liberation Sans" font-weight="bold" font-style="italic" font-size="10" fill="#000">κ</text>
<text transform="translate(9.2,197.3) rotate(-90)" text-anchor="middle" font-family="Liberation Sans" font-style="italic" font-size="11.5" fill="#000">λ</text>
<text x="86.1" y="12.4" font-family="Liberation Sans" font-style="italic" font-size="13.5">μ</text>
<text x="94.7" y="12.4" font-family="Liberation Sans" font-weight="bold" font-size="13.5" fill="#000">=200</text>
<text x="129.8" y="12.4" font-family="Liberation Sans" font-weight="bold" font-size="13.5" fill="#000">GeV</text>
<text x="159.7" y="12.4" font-family="Liberation Sans" font-weight="bold" font-size="13.5" fill="#000">tan</text>
<text x="180.1" y="12.4" font-family="Liberation Sans" font-style="italic" font-size="13.5">β</text>
<text x="189.2" y="12.4" font-family="Liberation Sans" font-weight="bold" font-size="13.5" fill="#000">=1.5</text>
<text x="220.6" y="12.4" font-family="Liberation Sans" font-weight="bold" font-size="13.5" fill="#000" font-style="italic">A</text>
<text x="231.2" y="15" font-family="Liberation Serif" font-size="9.5">λ</text>
<text x="236.3" y="12.4" font-family="Liberation Sans" font-weight="bold" font-size="13.5" fill="#000">=50 GeV</text>
<text x="299.8" y="12.4" font-family="Liberation Sans" font-weight="bold" font-size="13.5" fill="#000" font-style="italic">A</text>
<text x="310.3" y="15" font-family="Liberation Sans" font-weight="bold" font-style="italic" font-size="9.5">k</text>
<text x="316.8" y="12.4" font-family="Liberation Sans" font-weight="bold" font-size="13.5" fill="#000">=0 GeV</text>
</svg>
</div>
</body></html>
